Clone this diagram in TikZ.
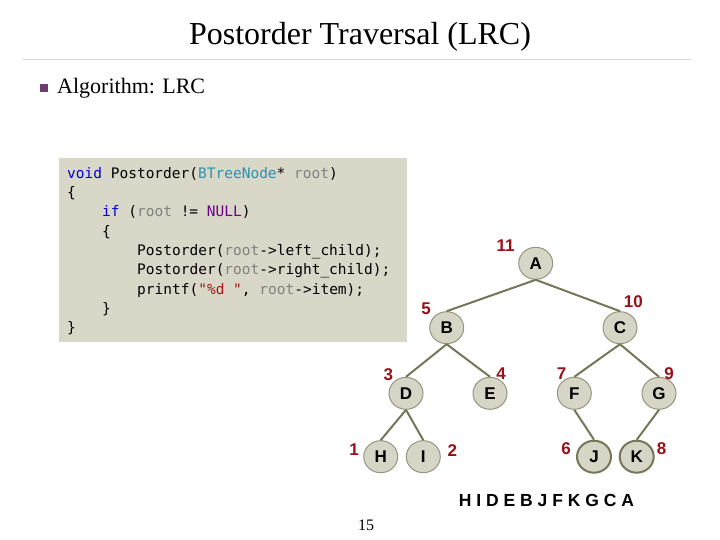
\documentclass[tikz,border=0pt]{standalone}
\usepackage{fontspec}
\setmainfont{Liberation Serif}
\setsansfont{Liberation Sans}
\setmonofont{DejaVu Sans Mono}
\usetikzlibrary{shapes.geometric}
\definecolor{codebg}{RGB}{216,215,200}
\definecolor{kwblue}{RGB}{0,0,210}
\definecolor{typeteal}{RGB}{43,145,175}
\definecolor{idgray}{RGB}{128,128,128}
\definecolor{nullpurple}{RGB}{111,0,138}
\definecolor{strred}{RGB}{163,21,21}
\definecolor{nodefill}{RGB}{214,213,198}
\definecolor{nodeedge}{RGB}{150,150,128}
\definecolor{edgecol}{RGB}{118,118,88}
\definecolor{numred}{RGB}{150,18,24}
\definecolor{bulletpurple}{RGB}{110,60,110}
\definecolor{rulegray}{RGB}{220,220,220}
\tikzset{
  tnode/.style={ellipse, draw=nodeedge, line width=1pt, fill=nodefill, minimum width=34pt, minimum height=32pt, inner sep=0pt, font=\sffamily\bfseries\fontsize{17}{17}\selectfont},
  tnodeb/.style={tnode, draw=edgecol, line width=2pt},
  tedge/.style={draw=edgecol, line width=2pt},
  numlab/.style={text=numred, font=\sffamily\bfseries\fontsize{17}{17}\selectfont, inner sep=0pt},
}
\begin{document}
\begin{tikzpicture}[x=1pt,y=-1pt]
\useasboundingbox[fill=white] (0,0) rectangle (720,540);
% title
\node (title) at (360,37) {\fontsize{32}{38}\selectfont Postorder Traversal (LRC)};
\draw[rulegray, line width=1pt] (22,60) -- (692,60);
\node[fill=bulletpurple, minimum size=8pt, inner sep=0pt] (bul) at (44,88) {};
\node[anchor=west, inner sep=0pt] (algo) at (57,88) {\fontsize{22}{26}\selectfont Algorithm: LRC};
% code box
\fill[codebg] (59,158) rectangle (407,342);
\node[anchor=north west, inner sep=0pt, align=left, font=\ttfamily\fontsize{14.5}{19.3}\selectfont] (code) at (67,167) {%
\textcolor{kwblue}{void} Postorder(\textcolor{typeteal}{BTreeNode}* \textcolor{idgray}{root})\\
\{\\
\hspace*{35pt}\textcolor{kwblue}{if} (\textcolor{idgray}{root} != \textcolor{nullpurple}{NULL})\\
\hspace*{35pt}\{\\
\hspace*{70pt}Postorder(\textcolor{idgray}{root}->left\_child);\\
\hspace*{70pt}Postorder(\textcolor{idgray}{root}->right\_child);\\
\hspace*{70pt}printf(\textcolor{strred}{"\%d "}, \textcolor{idgray}{root}->item);\\
\hspace*{35pt}\}\\
\}};
% tree
\node[tnode] (A) at (535.7,263.3) {A};
\node[tnode] (B) at (446.7,327.7) {B};
\node[tnode] (C) at (620,327.7) {C};
\node[tnode] (D) at (406,393.3) {D};
\node[tnode] (E) at (490,393.3) {E};
\node[tnode] (F) at (574.3,393.3) {F};
\node[tnode] (G) at (659,393.3) {G};
\node[tnode] (H) at (380.7,456.7) {H};
\node[tnode] (I) at (423.3,456.7) {I};
\node[tnodeb] (J) at (594,456.7) {J};
\node[tnodeb] (K) at (636.7,456.7) {K};
\draw[tedge] (A.south) -- (B.north);
\draw[tedge] (A.south) -- (C.north);
\draw[tedge] (B.south) -- (D.north);
\draw[tedge] (B.south) -- (E.north);
\draw[tedge] (C.south) -- (F.north);
\draw[tedge] (C.south) -- (G.north);
\draw[tedge] (D.south) -- (H.north);
\draw[tedge] (D.south) -- (I.north);
\draw[tedge] (F.south) -- (J.north);
\draw[tedge] (G.south) -- (K.north);
% order labels
\node[numlab] (n11) at (505.7,245.7) {11};
\node[numlab] (n10) at (633.3,301.7) {10};
\node[numlab] (n5) at (426,309) {5};
\node[numlab] (n3) at (388.3,374.3) {3};
\node[numlab] (n4) at (501,373.3) {4};
\node[numlab] (n7) at (561.7,373.3) {7};
\node[numlab] (n9) at (669,373.3) {9};
\node[numlab] (n1) at (354,449.3) {1};
\node[numlab] (n2) at (452.3,451) {2};
\node[numlab] (n6) at (566,449) {6};
\node[numlab] (n8) at (661.7,449) {8};
% result
\node[font=\sffamily\bfseries\fontsize{17.5}{17.5}\selectfont, inner sep=0pt] (res) at (546.5,500) {H I D E B J F K G C A};
\node[font=\fontsize{16}{16}\selectfont, inner sep=0pt] (pg) at (366,525) {15};
\end{tikzpicture}
\end{document}
